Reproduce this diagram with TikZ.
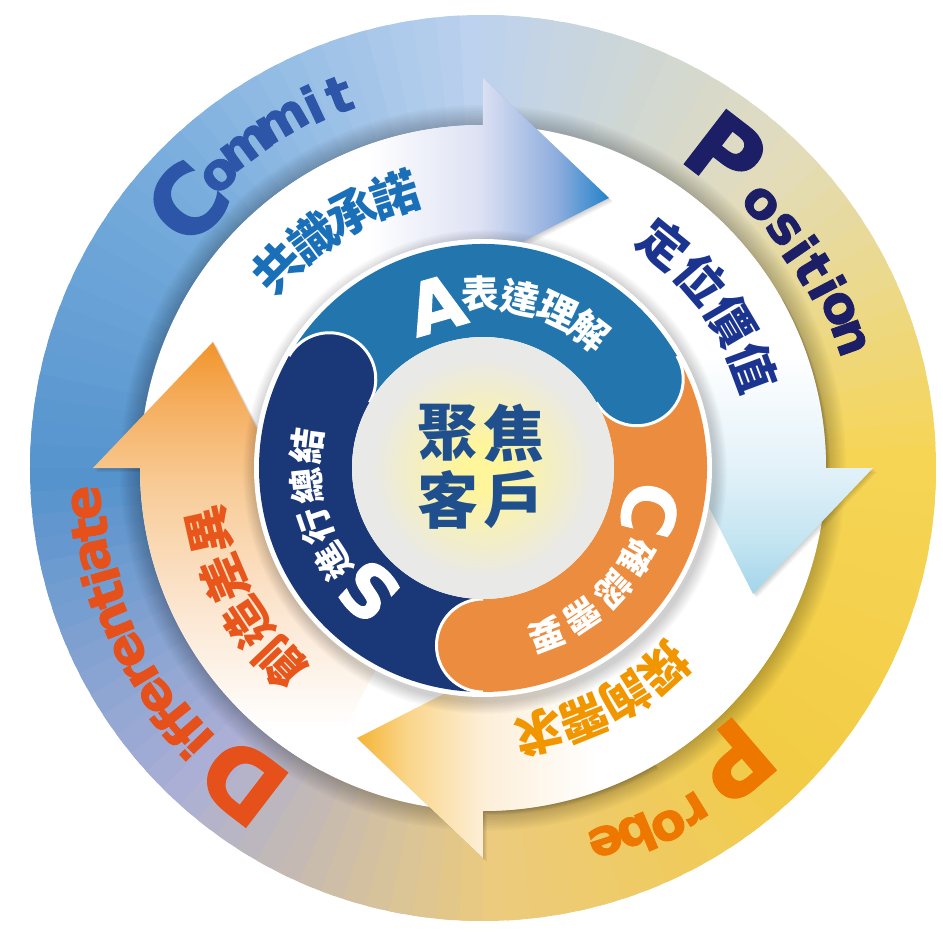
\documentclass[tikz,border=0pt]{standalone}
\usepackage{fontspec}
\setmainfont{DejaVu Sans}
\newfontfamily\wordfont{DejaVu Sans Bold}[FakeBold=1.6]
\newfontfamily\cjk{Noto Sans CJK TC}

% ring colours, every 45 degrees
\definecolor{ring0}{HTML}{F6D555}
\definecolor{ring1}{HTML}{E2DCBC}
\definecolor{ring2}{HTML}{BCD2EE}
\definecolor{ring3}{HTML}{78ADDD}
\definecolor{ring4}{HTML}{5593CD}
\definecolor{ring5}{HTML}{ABAFD6}
\definecolor{ring6}{HTML}{ECCB7E}
\definecolor{ring7}{HTML}{F2CC45}

\definecolor{commitblue}{HTML}{2E56A8}
\definecolor{positionnavy}{HTML}{1C1F66}
\definecolor{probeorange}{HTML}{EE7700}
\definecolor{diffred}{HTML}{E6501A}
\definecolor{bandblue}{HTML}{1A6FB9}
\definecolor{bandnavy}{HTML}{1B3490}
\definecolor{bandorange}{HTML}{F29600}
\definecolor{bandred}{HTML}{E8561B}
\definecolor{segblue}{HTML}{2376AD}
\definecolor{segorange}{HTML}{EC8C3F}
\definecolor{segnavy}{HTML}{1A3878}
\definecolor{focusblue}{HTML}{1F4F8D}
\definecolor{glowin}{HTML}{FFF59A}
\definecolor{glowout}{HTML}{E9E9E7}

\definecolor{toplav}{HTML}{DDE1F3}
\definecolor{topmid}{HTML}{8DADDD}
\definecolor{toptip}{HTML}{2282CA}
\definecolor{rightlav}{HTML}{E4F2F9}
\definecolor{rightmid}{HTML}{C3E4F1}
\definecolor{righttip}{HTML}{A2D5EA}
\definecolor{bottomlav}{HTML}{FDEFD9}
\definecolor{bottommid}{HTML}{FAD68C}
\definecolor{bottomtip}{HTML}{F5B434}
\definecolor{leftlav}{HTML}{FBE4CC}
\definecolor{leftpale}{HTML}{F8CC98}
\definecolor{leftmid}{HTML}{F5AE5E}
\definecolor{lefttip}{HTML}{F2942A}

% the path's box lies between 25bp and 75bp of a shading
\pgfdeclarehorizontalshading{arrowtop}{100bp}{color(0bp)=(white); color(47bp)=(white); color(60bp)=(toplav); color(69bp)=(topmid); color(75bp)=(toptip); color(100bp)=(toptip)}
\pgfdeclareverticalshading{arrowright}{100bp}{color(0bp)=(righttip); color(25bp)=(righttip); color(31bp)=(rightmid); color(40bp)=(rightlav); color(53bp)=(white); color(100bp)=(white)}
\pgfdeclarehorizontalshading{arrowbottom}{100bp}{color(0bp)=(bottomtip); color(25bp)=(bottomtip); color(31bp)=(bottommid); color(40bp)=(bottomlav); color(53bp)=(white); color(100bp)=(white)}
\pgfdeclareverticalshading{arrowleft}{100bp}{color(0bp)=(white); color(30bp)=(white); color(45bp)=(leftlav); color(58bp)=(leftpale); color(68bp)=(leftmid); color(75bp)=(lefttip); color(100bp)=(lefttip)}
\pgfdeclareradialshading{centerglow}{\pgfpoint{0bp}{0bp}}{color(0bp)=(glowin); color(4bp)=(glowin); color(21bp)=(glowout); color(50bp)=(glowout)}

\begin{document}
\begin{tikzpicture}[x=1pt, y=1pt,
    ringword/.style={inner sep=0pt, font=\wordfont\fontsize{51}{51}\selectfont},
    ringcap/.style={inner sep=0pt, font=\wordfont\fontsize{94}{94}\selectfont},
    bandchar/.style={inner sep=0pt, font=\cjk\fontsize{48}{48}\selectfont\bfseries},
    segchar/.style={inner sep=0pt, text=white, font=\cjk\fontsize{38}{38}\selectfont\bfseries},
    segcap/.style={inner sep=0pt, text=white, font=\wordfont\fontsize{72}{72}\selectfont}]
  \useasboundingbox (-483,-464) rectangle (460,468);

  % Outer ring, colour changes with the angle
  \foreach \a in {0,3,...,357}{
    \pgfmathtruncatemacro\k{\a/45}
    \pgfmathtruncatemacro\kk{mod(\k+1,8)}
    \pgfmathtruncatemacro\p{100-100*(\a-45*\k)/45}
    \fill[ring\k!\p!ring\kk] (0,0) -- (\a:453) arc[start angle=\a, end angle=\a+5, radius=453] -- cycle;
  }

  % Shadow inside the ring
  \foreach \i in {1,...,10}
    \fill[black, opacity=0.025] (0,0) circle ({343+2*\i});

  % White disk
  \fill[white] (0,0) circle (343);

  % Soft shadows under the arrow heads
  \foreach \b in {90,0,-90,180}
    \foreach \s in {1,...,4}
      \fill[black, opacity=0.045, shift={(\s,-\s)}] ({\b+30}:343) arc[start angle=\b+30, end angle=\b, radius=343]
        -- (\b:390) -- ({\b-25}:298) -- (\b:206) -- (\b:215)
        arc[start angle=\b, end angle=\b+30, radius=215] -- cycle;

  % Four curved arrows, clockwise
  \foreach \b/\shd in {90/arrowtop, 0/arrowright, -90/arrowbottom, 180/arrowleft}
    \shade[shading=\shd] ({\b+62}:343) arc[start angle=\b+62, end angle=\b, radius=343]
      -- (\b:390) -- ({\b-25}:298) -- (\b:206) -- (\b:215)
      arc[start angle=\b, end angle=\b+62, radius=215] -- cycle;

  % Shadow of the middle disk
  \foreach \i in {1,...,8}
    \fill[black, opacity=0.025] (2,-4) circle ({229+1.6*\i});
  \fill[white] (0,0) circle (229);

  % Three segments
  \foreach \from/\to/\col in {270/150/segnavy, 150/30/segblue, 30/-90/segorange}
    \fill[\col] (\from:224) arc[start angle=\from, end angle=\to, radius=224]
      -- (\to:131) arc[start angle=\to, end angle=\from, radius=131] -- cycle;

  % Round heads of the segments
  \foreach \to/\col in {150/segnavy, 30/segblue, -90/segorange}{
    \fill[\col] (\to:177.5) circle (46.5);
    \draw[white, line width=3pt] (\to:224) arc[start angle=\to, end angle=\to-180, radius=46.5];
  }

  % Centre disk
  \shade[shading=centerglow] (0,0) circle (131);
  \foreach \ch/\x/\y [count=\i] in {聚/-35/35, 焦/31/35, 客/-35/-32, 戶/31/-32}
    \node[inner sep=0pt, text=focusblue, font=\cjk\fontsize{61}{61}\selectfont\bfseries] (focus\i) at (\x,\y) {\ch};

  % Words on the outer ring
  \node[ringcap, text=commitblue, rotate=47.9] (commit0) at (138.1:398) {C};
  \foreach \ch/\a/\r [count=\i] in {o/131.9/394, m/126.4/399, m/120.1/400, i/115.1/402, t/111.1/400}
    \node[ringword, text=commitblue, rotate=\a-90] (commit\i) at (\a:\r) {\ch};

  \node[ringcap, text=positionnavy, rotate=-37.6] (position0) at (52.4:398) {P};
  \foreach \ch/\a/\r [count=\i] in {o/43.5/383, s/38.4/384, i/34.6/386, t/31.2/386, i/27.7/389, o/24.1/390, n/19.6/389}
    \node[ringword, text=positionnavy, rotate=\a-90] (position\i) at (\a:\r) {\ch};

  \node[ringcap, text=probeorange, rotate=-139.4] (probe0) at (-49.4:386) {P};
  \foreach \ch/\a/\r [count=\i] in {r/-58.2/400, o/-62.6/403, b/-67.2/398, e/-71.8/392}
    \node[ringword, text=probeorange, rotate=\a-90] (probe\i) at (\a:\r) {\ch};

  \node[ringcap, text=diffred, rotate=142.5] (diff0) at (232.5:395) {D};
  \foreach \ch/\a [count=\i] in {i/224, f/221.4, f/218.6, e/214.9, r/211, e/207.2, n/202.6, t/198.7, i/195.9, a/192.6, t/188.8, e/185}
    \node[ringword, text=diffred, rotate=\a-90] (diff\i) at (\a:398) {\ch};

  % Words on the arrows
  \foreach \ch/\a [count=\i] in {共/135.7, 識/126.4, 承/117.2, 諾/107.9}
    \node[bandchar, text=bandblue, rotate=\a-90] (commitcn\i) at (\a:287) {\ch};
  \foreach \ch/\a [count=\i] in {定/51, 位/40.8, 價/30.6, 值/20.5}
    \node[bandchar, text=bandnavy, rotate=\a-90] (positioncn\i) at (\a:288) {\ch};
  \foreach \ch/\a [count=\i] in {探/-47.8, 詢/-58, 需/-68, 求/-78}
    \node[bandchar, text=bandorange, rotate=\a-90] (probecn\i) at (\a:270) {\ch};
  \foreach \ch/\a [count=\i] in {創/223.8, 造/213.4, 差/203.1, 異/192.7}
    \node[bandchar, text=bandred, rotate=\a-90] (diffcn\i) at (\a:281) {\ch};

  % Words on the segments
  \node[segcap, rotate=16] (segA) at (106:170) {A};
  \foreach \ch/\a [count=\i] in {表/91, 達/77.6, 理/64.5, 解/52.2}
    \node[segchar, rotate=\a-90] (segA\i) at (\a:174) {\ch};
  \node[segcap, rotate=-104] (segC) at (-14:172) {C};
  \foreach \ch/\a [count=\i] in {確/-30, 認/-43, 需/-56, 要/-69}
    \node[segchar, font=\cjk\fontsize{35}{35}\selectfont\bfseries, rotate=\a-90] (segC\i) at (\a:178) {\ch};
  \node[segcap, rotate=137] (segS) at (227:168) {S};
  \foreach \ch/\a [count=\i] in {進/212, 行/199, 總/186, 結/173}
    \node[segchar, font=\cjk\fontsize{36}{36}\selectfont\bfseries, rotate=\a-90] (segS\i) at (\a:177) {\ch};
\end{tikzpicture}
\end{document}
